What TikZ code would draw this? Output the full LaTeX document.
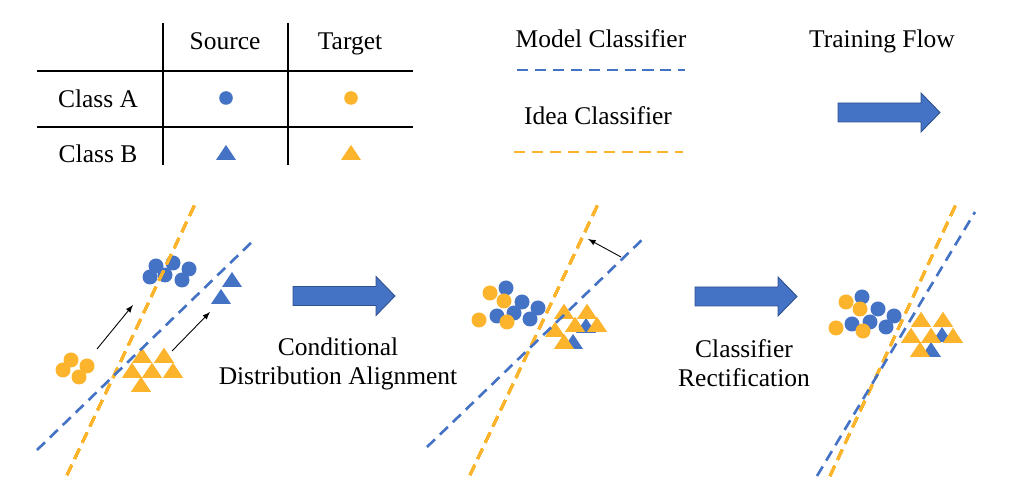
\documentclass[tikz,border=0pt]{standalone}
\usepackage{fontspec}
\setmainfont{Liberation Serif}
\definecolor{srcblue}{HTML}{4472C4}
\definecolor{srcedge}{HTML}{2F528F}
\definecolor{tgtgold}{HTML}{FBB42C}
% triangle: centre x, base y, colour
\newcommand{\mtri}[3]{\fill[#3] ({#1-10},#2) -- ({#1+10},#2) -- (#1,{#2-15}) -- cycle;}
% block arrow: left x, middle y
\newcommand{\flowarrow}[2]{\draw[flow] (#1,{#2-9.5}) -- ({#1+83},{#2-9.5}) -- ({#1+83},{#2-19.5}) -- ({#1+102},#2) -- ({#1+83},{#2+19.5}) -- ({#1+83},{#2+9.5}) -- (#1,{#2+9.5}) -- cycle;}
\begin{document}
\begin{tikzpicture}[
      x=0.02cm,y=-0.02cm,
      >=latex,
      lbl/.style={
        font=\fontsize{14.5}{17}\selectfont,anchor=base,inner sep=0pt
      },
      rule/.style={line width=1.1pt},
      mdl/.style={draw=srcblue,line width=1.5pt,dash pattern=on 6.3pt off 3.9pt},
      idl/.style={draw=tgtgold,line width=1.5pt,dash pattern=on 6.3pt off 3.9pt},
      flow/.style={fill=srcblue,draw=srcedge,line width=0.5pt},
      ptr/.style={->,line width=0.5pt},
    ]
    \useasboundingbox (0,0) rectangle (1011,492);
    % table
    \draw[rule] (37,71) -- (413,71);
    \draw[rule] (37,127) -- (413,127);
    \draw[rule] (163,23) -- (163,165);
    \draw[rule] (288,23) -- (288,165);
    \node[lbl] (hsrc) at (225,50) {Source};
    \node[lbl] (htgt) at (350,50) {Target};
    \node[lbl] (rowa) at (98,108) {Class A};
    \node[lbl] (rowb) at (98,163) {Class B};
    \fill[srcblue] (226,98) circle (6.8);
    \fill[tgtgold] (351,98) circle (6.8);
    \mtri{226}{160}{srcblue}
    \mtri{351}{160}{tgtgold}
    % legend
    \node[lbl] (lgmodel) at (601,48) {Model Classifier};
    \draw[mdl] (517,70) -- (685,70);
    \node[lbl] (lgidea) at (598,125) {Idea Classifier};
    \draw[idl] (514,152) -- (683,152);
    \node[lbl] (lgflow) at (882,48) {Training Flow};
    \flowarrow{838}{112.5}
    % first panel
    \foreach \x/\y in {150/277,156/266,165/275,173/263,189/269,182/280}
      \fill[srcblue] (\x,\y) circle (7.5);
    \foreach \x/\y in {63/370,71/360,87/366,79/377}
      \fill[tgtgold] (\x,\y) circle (7.5);
    \foreach \x/\y in {232/287,221/304}
      \mtri{\x}{\y}{srcblue}
    \foreach \x/\y in {142/363,164/363,132/378,152/378,173/378,141/392}
      \mtri{\x}{\y}{tgtgold}
    \draw[idl] (67,475) -- (197,200);
    \draw[mdl] (37,450) -- (255,239);
    \coordinate (a1s) at (97,349);
    \coordinate (a1e) at (133,305);
    \coordinate (b1s) at (172,351);
    \coordinate (b1e) at (210,312);
    \draw[ptr] (a1s) -- (a1e);
    \draw[ptr] (b1s) -- (b1e);
    \flowarrow{293}{296}
    \node[lbl] (stepa1) at (338,356) {Conditional};
    \node[lbl] (stepa2) at (338,385) {Distribution Alignment};
    % second panel
    \foreach \x/\y in {506/288,522/302,538/308,497/316,514/313,530/319}
      \fill[srcblue] (\x,\y) circle (7.5);
    \foreach \x/\y in {490/293,504/301,479/320,507/322}
      \fill[tgtgold] (\x,\y) circle (7.5);
    \foreach \x/\y in {586/333,573/349}
      \mtri{\x}{\y}{srcblue}
    \foreach \x/\y in {564/319,587/319,555/337,575/332,597/332,564/349}
      \mtri{\x}{\y}{tgtgold}
    \draw[idl] (470,475) -- (600,200);
    \draw[mdl] (427,447) -- (645,237);
    \coordinate (r2s) at (621,257);
    \coordinate (r2e) at (588,239);
    \draw[ptr] (r2s) -- (r2e);
    \flowarrow{695}{296.5}
    \node[lbl] (stepb1) at (744,358) {Classifier};
    \node[lbl] (stepb2) at (744,387) {Rectification};
    % third panel
    \foreach \x/\y in {862/297,878/309,894/316,852/324,870/322,886/327}
      \fill[srcblue] (\x,\y) circle (7.5);
    \foreach \x/\y in {846/302,860/309,836/328,863/331}
      \fill[tgtgold] (\x,\y) circle (7.5);
    \foreach \x/\y in {942/342,931/357}
      \mtri{\x}{\y}{srcblue}
    \foreach \x/\y in {921/327,943/327,911/343,931/343,953/343,920/357}
      \mtri{\x}{\y}{tgtgold}
    \draw[idl] (830,476) -- (958,200);
    \draw[mdl] (817,476) -- (975,212);
  \end{tikzpicture}
\end{document}
